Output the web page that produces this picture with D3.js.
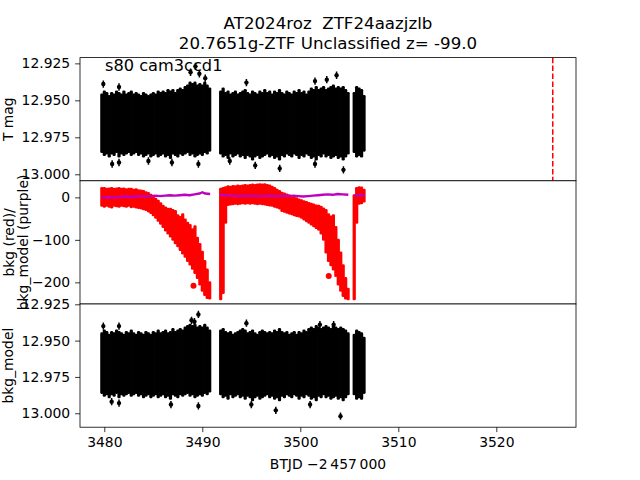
<!DOCTYPE html>
<html><head><meta charset="utf-8">
<script src="https://cdn.jsdelivr.net/npm/d3@7"></script>
<style>body{margin:0;background:#fff}svg{display:block}text{font-family:"DejaVu Sans",sans-serif}</style>
</head><body>
<script>
// ---- data ----
const binStep = 0.25;
const segStarts = [3479.75, 3491.875, 3505.5];
const markerTime = 3525.76;

// T mag panel: upper (brighter) and lower envelope of the band per bin
const tmagHi1 = [12.946,12.944,12.945,12.947,12.945,12.946,12.944,12.945,12.946,12.944,12.946,12.945,12.944,12.946,12.945,12.946,12.947,12.945,12.946,12.947,12.946,12.945,12.946,12.944,12.945,12.944,12.945,12.943,12.944,12.943,12.945,12.943,12.942,12.943,12.941,12.940,12.938,12.939,12.938,12.940,12.939,12.940,12.938,12.940,12.942];
const tmagLo1 = [12.985,12.987,12.986,12.988,12.986,12.987,12.985,12.988,12.986,12.987,12.986,12.985,12.987,12.986,12.985,12.987,12.986,12.988,12.987,12.986,12.988,12.987,12.986,12.988,12.987,12.986,12.988,12.987,12.989,12.986,12.987,12.988,12.986,12.987,12.986,12.985,12.987,12.986,12.988,12.987,12.986,12.987,12.985,12.986,12.984];
const tmagHi2 = [12.944,12.942,12.945,12.944,12.946,12.945,12.944,12.946,12.945,12.944,12.943,12.945,12.946,12.944,12.945,12.946,12.944,12.945,12.943,12.945,12.944,12.946,12.944,12.945,12.943,12.945,12.946,12.944,12.945,12.946,12.944,12.945,12.943,12.945,12.944,12.946,12.944,12.942,12.943,12.941,12.943,12.942,12.941,12.943,12.942,12.941,12.940,12.942,12.941,12.942,12.941,12.943,12.945];
const tmagLo2 = [12.986,12.988,12.987,12.989,12.986,12.988,12.987,12.986,12.988,12.987,12.989,12.987,12.988,12.990,12.988,12.987,12.989,12.988,12.987,12.986,12.988,12.987,12.989,12.988,12.990,12.987,12.988,12.986,12.987,12.988,12.986,12.987,12.989,12.987,12.988,12.986,12.987,12.989,12.988,12.990,12.987,12.988,12.986,12.988,12.987,12.989,12.988,12.987,12.989,12.988,12.990,12.988,12.986];
const tmagHi3 = [12.945,12.941,12.942,12.943,12.947];
const tmagLo3 = [12.985,12.988,12.987,12.988,12.984];
const tmagOutT = [3479.9,3481.5,3488.8,3489.3,3489.7,3490.3,3494.5,3501.5,3502.7,3503.7,3480.8,3481.5,3484.5,3486.9,3489.6,3492.8,3495.4,3497.9,3501.5,3504.4];
const tmagOutV = [12.939,12.941,12.931,12.927,12.932,12.935,12.938,12.937,12.936,12.933,12.993,12.992,12.991,12.992,12.993,12.991,12.994,12.996,12.993,12.997];

// background panel: red bkg band envelope per bin
const bkgHi1 = [22,22,20,21,22,20,21,22,20,21,19,20,20,18,19,17,16,15,12,10,6,2,-3,-8,-14,-20,-24,-27,-27,-30,-32,-42,-46,-40,-52,-60,-65,-75,-68,-95,-110,-128,-150,-170,-200];
const bkgLo1 = [-20,-22,-20,-22,-24,-20,-21,-22,-20,-21,-22,-20,-23,-22,-24,-25,-26,-28,-30,-33,-37,-42,-48,-55,-62,-70,-78,-85,-92,-100,-108,-115,-124,-132,-140,-150,-158,-168,-178,-190,-205,-220,-230,-237,-238];
const bkgHi2 = [20,22,24,26,25,27,26,28,27,28,29,28,29,30,29,30,31,30,31,29,28,25,22,18,15,11,9,7,5,3,0,-2,-5,-7,-9,-11,-13,-15,-17,-19,-20,-22,-26,-30,-40,-45,-42,-70,-100,-130,-160,-190,-215];
const bkgLo2 = [-240,-225,-60,-18,-17,-16,-15,-16,-15,-14,-15,-14,-15,-14,-15,-16,-15,-16,-17,-18,-19,-20,-22,-24,-26,-32,-34,-36,-38,-40,-42,-44,-45,-48,-52,-56,-60,-64,-68,-72,-76,-85,-100,-130,-150,-160,-170,-185,-205,-220,-232,-238,-240];
const bkgHi3 = [5,22,24,23,18];
const bkgLo3 = [-240,-60,-15,-14,-10];
const bkgOutT = [3489.1,3502.9];
const bkgOutV = [-208,-185];

// bkg_model (purple line)
const modelT1 = [3479.7,3480.2,3480.7,3481.2,3481.7,3482.2,3482.7,3483.2,3483.7,3484.2,3484.7,3485.2,3485.7,3486.2,3486.7,3487.2,3487.7,3488.2,3488.7,3489.2,3489.7,3490.0,3490.3,3490.8];
const modelV1 = [1,0,1,0,1,2,1,2,3,2,3,4,3,4,5,4,5,6,5,7,9,12,9,8];
const modelT2 = [3491.8,3492.3,3492.8,3493.3,3493.8,3494.3,3494.8,3495.3,3495.8,3496.3,3496.8,3497.3,3497.8,3498.3,3498.8,3499.3,3499.8,3500.3,3500.8,3501.3,3501.8,3502.3,3502.8,3503.3,3503.8,3504.3,3504.9];
const modelV2 = [6,5,4,4,3,4,3,4,3,3,4,3,3,4,3,4,3,2,3,4,5,6,7,6,8,7,6];
const modelT3 = [3505.5,3506.0,3506.6];
const modelV3 = [4,5,5];

// bkg_model panel band envelope per bin
const corrHi1 = [12.945,12.943,12.944,12.946,12.944,12.945,12.943,12.944,12.945,12.946,12.944,12.945,12.943,12.945,12.946,12.944,12.945,12.946,12.944,12.945,12.946,12.944,12.945,12.943,12.945,12.944,12.943,12.945,12.944,12.942,12.944,12.943,12.942,12.943,12.941,12.940,12.939,12.940,12.939,12.941,12.940,12.941,12.939,12.941,12.943];
const corrLo1 = [12.986,12.988,12.987,12.989,12.987,12.988,12.986,12.989,12.987,12.988,12.987,12.986,12.988,12.987,12.986,12.988,12.987,12.989,12.988,12.987,12.989,12.988,12.987,12.989,12.988,12.987,12.989,12.988,12.990,12.987,12.988,12.989,12.987,12.988,12.987,12.986,12.988,12.987,12.989,12.988,12.987,12.988,12.986,12.987,12.985];
const corrHi2 = [12.943,12.942,12.944,12.945,12.944,12.946,12.945,12.944,12.943,12.942,12.943,12.945,12.944,12.943,12.945,12.946,12.944,12.943,12.944,12.945,12.944,12.945,12.943,12.944,12.942,12.944,12.945,12.944,12.946,12.945,12.944,12.946,12.944,12.945,12.943,12.944,12.942,12.941,12.942,12.940,12.941,12.942,12.941,12.940,12.941,12.942,12.940,12.941,12.942,12.941,12.942,12.943,12.945];
const corrLo2 = [12.987,12.989,12.988,12.990,12.987,12.989,12.988,12.987,12.989,12.988,12.990,12.988,12.989,12.991,12.989,12.988,12.990,12.989,12.988,12.987,12.989,12.988,12.990,12.989,12.991,12.988,12.989,12.987,12.988,12.989,12.987,12.988,12.990,12.988,12.989,12.987,12.988,12.990,12.989,12.991,12.988,12.989,12.987,12.989,12.988,12.990,12.989,12.988,12.990,12.989,12.991,12.989,12.987];
const corrHi3 = [12.946,12.943,12.944,12.945,12.948];
const corrLo3 = [12.987,12.990,12.989,12.990,12.986];
const corrOutT = [3479.9,3481.5,3488.9,3489.2,3489.6,3494.5,3502.0,3503.4,3480.75,3481.5,3486.8,3489.6,3495.0,3497.5,3501.0,3504.1];
const corrOutV = [12.940,12.940,12.936,12.937,12.932,12.938,12.939,12.939,12.992,12.993,12.994,12.995,12.994,12.998,12.994,13.002];

const xTicks = [3480,3490,3500,3510,3520];
const magTicks = [12.925,12.950,12.975,13.000];
const bkgTicks = [0,-100,-200];

const title1 = "AT2024roz  ZTF24aazjzlb";
const title2 = "20.7651g-ZTF Unclassified z= -99.0";
const tag = "s80 cam3ccd1";
const xLabel = "BTJD \u22122\u2009457\u2009000";

// ---- drawing ----
const W = 640, H = 480, L = 80, R = 576;
const tops = [57.6, 180.8, 304.0, 427.2];
const svg = d3.select("body").append("svg").attr("width", W).attr("height", H);
svg.append("rect").attr("width", W).attr("height", H).attr("fill", "#fff");

const x = d3.scaleLinear().domain([3477.52, 3528.13]).range([L, R]);
const yT = d3.scaleLinear().domain([12.9211, 13.0044]).range([tops[0], tops[1]]);
const yB = d3.scaleLinear().domain([39, -251]).range([tops[1], tops[2]]);
const yC = d3.scaleLinear().domain([12.9248, 13.0096]).range([tops[2], tops[3]]);

function panel(i) {
  const g = svg.append("g");
  const cid = "clip" + i;
  svg.append("clipPath").attr("id", cid).append("rect")
    .attr("x", L).attr("y", tops[i]).attr("width", R - L).attr("height", tops[i+1] - tops[i]);
  g.append("rect").attr("x", L).attr("y", tops[i]).attr("width", R-L).attr("height", tops[i+1]-tops[i]).attr("fill", "#fff");
  const inner = g.append("g").attr("clip-path", `url(#${cid})`);
  return {g, inner};
}

function bands(sel, y, his, los, color) {
  const bw = x(segStarts[0] + binStep) - x(segStarts[0]);
  his.forEach((hi, s) => {
    const lo = los[s];
    const data = hi.map((h, k) => ({t: segStarts[s] + k * binStep, h, l: lo[k]}));
    sel.selectAll(null).data(data).enter().append("rect")
      .attr("x", d => x(d.t) - bw / 2 - 0.4).attr("width", bw + 0.8)
      .attr("y", d => Math.min(y(d.h), y(d.l)) - 1)
      .attr("height", d => Math.abs(y(d.l) - y(d.h)) + 2)
      .attr("rx", 1.3).attr("fill", color);
  });
}

function outliers(sel, y, ts, vs, color, err, r) {
  const data = ts.map((t, k) => ({t, v: vs[k]}));
  if (err) {
    sel.selectAll(null).data(data).enter().append("line")
      .attr("x1", d => x(d.t)).attr("x2", d => x(d.t))
      .attr("y1", d => y(d.v - err)).attr("y2", d => y(d.v + err))
      .attr("stroke", color).attr("stroke-width", 1.5);
  }
  sel.selectAll(null).data(data).enter().append("circle")
    .attr("cx", d => x(d.t)).attr("cy", d => y(d.v)).attr("r", r).attr("fill", color);
}

function frame(p, i, y, ticks, fmt) {
  p.g.append("rect").attr("x", L).attr("y", tops[i]).attr("width", R - L).attr("height", tops[i+1] - tops[i])
    .attr("fill", "none").attr("stroke", "#000").attr("stroke-width", 0.8);
  const ax = p.g.append("g").attr("transform", `translate(${L},0)`)
    .call(d3.axisLeft(y).tickValues(ticks).tickFormat(fmt).tickSize(4.9).tickPadding(4.9));
  ax.select(".domain").remove();
  ax.selectAll("line").attr("stroke", "#000").attr("stroke-width", 0.8);
  ax.selectAll("text").attr("font-size", 13.9).attr("fill", "#000").attr("font-family", "DejaVu Sans");
}

function yLabel(lines, i, xBase) {
  const cy = (tops[i] + tops[i+1]) / 2;
  lines.forEach((s, k) => {
    svg.append("text").attr("transform", `translate(${xBase[k]},${cy}) rotate(-90)`)
      .attr("text-anchor", "middle").attr("font-size", 13.9).attr("fill", "#000").text(s);
  });
}

// panel 0: T mag
const p0 = panel(0);
bands(p0.inner, yT, [tmagHi1, tmagHi2, tmagHi3], [tmagLo1, tmagLo2, tmagLo3], "#000");
outliers(p0.inner, yT, tmagOutT, tmagOutV, "#000", 0.0025, 2.2);
p0.inner.append("line").attr("x1", x(markerTime)).attr("x2", x(markerTime))
  .attr("y1", tops[0]).attr("y2", tops[1]).attr("stroke", "#ff0000").attr("stroke-width", 1.5)
  .attr("stroke-dasharray", "5.55,2.4");
p0.g.append("text").attr("x", 105).attr("y", 71).attr("font-size", 16.2).attr("fill", "#000").text(tag);
frame(p0, 0, yT, magTicks, d3.format(".3f"));

// panel 1: bkg
const p1 = panel(1);
bands(p1.inner, yB, [bkgHi1, bkgHi2, bkgHi3], [bkgLo1, bkgLo2, bkgLo3], "#ff0000");
outliers(p1.inner, yB, bkgOutT, bkgOutV, "#ff0000", 0, 3);
const line = d3.line().x(d => x(d[0])).y(d => yB(d[1]));
[[modelT1, modelV1], [modelT2, modelV2], [modelT3, modelV3]].forEach(([ts, vs]) => {
  p1.inner.append("path").attr("d", line(ts.map((t, k) => [t, vs[k]])))
    .attr("fill", "none").attr("stroke", "#bf00bf").attr("stroke-width", 2.4).attr("stroke-linejoin", "round");
});
frame(p1, 1, yB, bkgTicks, d3.format("d"));

// panel 2: bkg_model corrected
const p2 = panel(2);
bands(p2.inner, yC, [corrHi1, corrHi2, corrHi3], [corrLo1, corrLo2, corrLo3], "#000");
outliers(p2.inner, yC, corrOutT, corrOutV, "#000", 0.0025, 2.2);
frame(p2, 2, yC, magTicks, d3.format(".3f"));

// x axis
const xa = svg.append("g").attr("transform", `translate(0,${tops[3]})`)
  .call(d3.axisBottom(x).tickValues(xTicks).tickFormat(d3.format("d")).tickSize(4.9).tickPadding(4.9));
xa.select(".domain").remove();
xa.selectAll("line").attr("stroke", "#000").attr("stroke-width", 0.8);
xa.selectAll("text").attr("font-size", 13.9).attr("fill", "#000").attr("font-family", "DejaVu Sans");

svg.append("text").attr("x", (L+R)/2).attr("y", 469).attr("text-anchor", "middle")
  .attr("font-size", 13.9).attr("fill", "#000").text(xLabel);

yLabel(["T mag"], 0, [13]);
yLabel(["bkg (red)/", "bkg_model (purple)"], 1, [13.5, 27.5]);
yLabel(["bkg_model"], 2, [13]);

svg.append("text").attr("x", (L+R)/2).attr("y", 29.3).attr("text-anchor", "middle")
  .attr("font-size", 16.67).attr("fill", "#000").style("white-space", "pre").text(title1);
svg.append("text").attr("x", (L+R)/2).attr("y", 49.3).attr("text-anchor", "middle")
  .attr("font-size", 16.67).attr("fill", "#000").text(title2);
</script>
</body></html>
